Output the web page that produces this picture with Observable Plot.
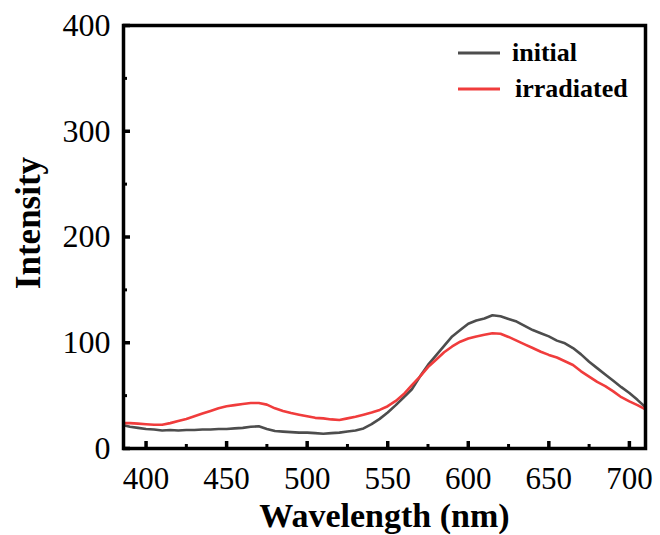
<!DOCTYPE html>
<html><head><meta charset="utf-8">
<script src="https://cdn.jsdelivr.net/npm/d3@7"></script>
<script src="https://cdn.jsdelivr.net/npm/@observablehq/plot@0.6"></script>
<style>
body{margin:0;background:#fff}
#wrap{position:relative;width:660px;height:535px}
#legend{position:absolute;left:450px;top:36px}
</style>
</head><body><div id="wrap"></div>
<script>
const wavelength = [386,390,395,400,405,410,415,420,425,430,435,440,445,450,455,460,465,470,475,480,485,490,495,500,505,510,515,520,525,530,535,540,545,550,555,560,565,570,575,580,585,590,595,600,605,610,615,620,625,630,635,640,645,650,655,660,665,670,675,680,685,690,695,700,705,710];
const initial = [22,20.5,19.5,18.5,18,17,17.5,17,17.5,17.5,18,18,18.5,18.5,19,19.5,20.5,21,18.5,16.5,16,15.5,15,15,14.5,14,14.5,15,16,17,19,23,28,34,41,48.5,56,68,79,88,97,106,112,118,121,123,126,125,122.5,120,116,112,109,106,102,99.5,95,89,82,76,70,64,58,52.5,46,39];
const irradiated = [24,24,23.5,23,22.5,22.5,24,26,28,30.5,33,35.5,38,40,41,42,43,43,41.5,38,35.5,33.5,32,30.5,29,28.5,27.5,27,28.5,30,32,34,36.5,40,45,51.5,60,68,77,84,91,96.5,101,104,106,107.5,109,108.5,105.5,102,98.5,95,91.5,88.5,86,82.5,79,73,68,63,59,54,48.5,44.5,41,37];
const xMajor = [400,450,500,550,600,650,700];
const xMinor = [425,475,525,575,625,675];
const yMajor = [0,100,200,300,400];
const yMinor = [50,150,250,350];
const seriesNames = ["initial","irradiated"];
const seriesColors = ["#4d4d4d","#f03c3c"];
const xTitle = "Wavelength (nm)";
const yTitle = "Intensity";

const rows = [];
wavelength.forEach((w,i)=>{
  rows.push({w, v: initial[i], s: seriesNames[0]});
  rows.push({w, v: irradiated[i], s: seriesNames[1]});
});

const font = "'Liberation Serif','Times New Roman',serif";
const W = 660, H = 535, mL = 123, mR = 15, mT = 25, mB = 87;
const pw = W - mL - mR, ph = H - mT - mB;

const chart = Plot.plot({
  width: W, height: H,
  marginLeft: mL, marginRight: mR, marginTop: mT, marginBottom: mB,
  style: {fontFamily: font, background: "#fff", color: "#000"},
  x: {domain: [386, 710]},
  y: {domain: [0, 400]},
  color: {domain: seriesNames, range: seriesColors},
  marks: [
    Plot.line(rows, {x: "w", y: "v", z: "s", stroke: "s", strokeWidth: 2.6}),
    Plot.axisX({ticks: xMajor, tickSize: 0, tickPadding: 18, fontSize: 31, tickFormat: d => d, label: null}),
    Plot.axisY({ticks: yMajor, tickSize: 0, tickPadding: 13, fontSize: 32, tickFormat: d => d, label: null}),
    Plot.ruleX(xMajor, {x: d => d, insetTop: ph - 7, stroke: "#000", strokeWidth: 3.5}),
    Plot.ruleX(xMinor, {x: d => d, insetTop: ph - 4, stroke: "#000", strokeWidth: 3}),
    Plot.ruleY(yMajor, {y: d => d, insetRight: pw - 7, stroke: "#000", strokeWidth: 3.5}),
    Plot.ruleY(yMinor, {y: d => d, insetRight: pw - 4, stroke: "#000", strokeWidth: 3}),
    Plot.frame({stroke: "#000", strokeWidth: 3.5}),
    Plot.text([xTitle], {frameAnchor: "bottom", dy: 78, fontSize: 34, fontWeight: "bold", fill: "#000"}),
    Plot.text([yTitle], {frameAnchor: "left", textAnchor: "middle", dx: -95, dy: -14, rotate: -90, fontSize: 35, fontWeight: "bold", fill: "#000"})
  ]
});
const wrap = document.getElementById("wrap");
wrap.appendChild(chart);

const leg = d3.select(wrap).append("svg").attr("id","legend").attr("width",200).attr("height",70);
seriesNames.forEach((n,i)=>{
  const y = 17 + i*36;
  leg.append("line").attr("x1",8).attr("x2",50).attr("y1",y).attr("y2",y)
    .attr("stroke",seriesColors[i]).attr("stroke-width",3);
  leg.append("text").attr("x", i===0 ? 62 : 65).attr("y", y+8)
    .attr("font-family",font).attr("font-weight","bold").attr("font-size",26)
    .text(n);
});
</script>
</body></html>
